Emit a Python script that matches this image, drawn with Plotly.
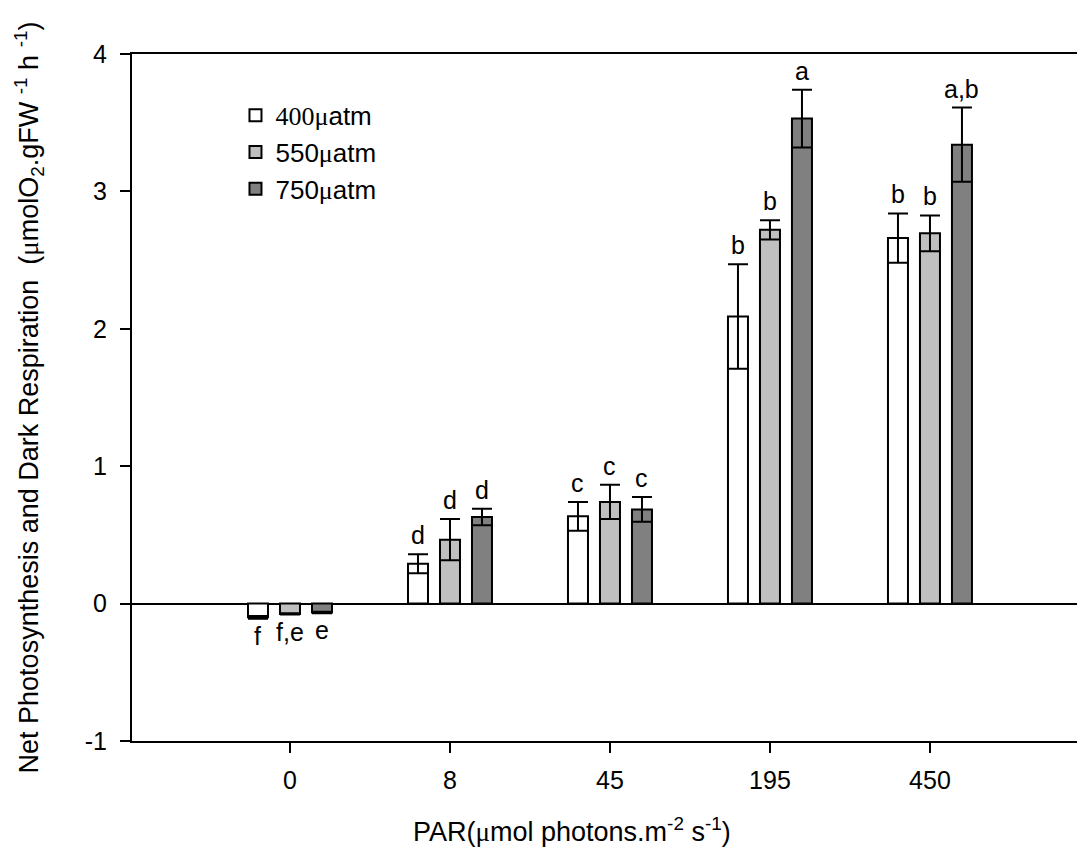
import plotly.graph_objects as go

categories = ["0", "8", "45", "195", "450"]

v400 = [-0.10, 0.29, 0.635, 2.09, 2.66]
e400 = [0.01, 0.07, 0.105, 0.38, 0.18]
v550 = [-0.075, 0.465, 0.74, 2.72, 2.695]
e550 = [0.005, 0.15, 0.125, 0.07, 0.13]
v750 = [-0.065, 0.63, 0.685, 3.53, 3.34]
e750 = [0.005, 0.06, 0.09, 0.21, 0.27]

l400 = ["f", "d", "c", "b", "b"]
l550 = ["f,e", "d", "c", "b", "b"]
l750 = ["e", "d", "c", "a", "a,b"]

y_tickvals = [-1, 0, 1, 2, 3, 4]
y_ticktext = ["-1", "0", "1", "2", "3", "4"]

series_names = ["400", "550", "750"]
values = [v400, v550, v750]
errors = [e400, e550, e750]
letters = [l400, l550, l750]
colors = ["#ffffff", "#c0c0c0", "#808080"]

FONT = "Arial, 'Liberation Sans', sans-serif"
SERIF = "'Liberation Serif', 'Times New Roman', serif"
MU = "<span style=\"font-family:" + SERIF + "\">\u03bc</span>"

fig = go.Figure()
for k in range(3):
    name = series_names[k] + MU + "atm"
    if k == 0:
        name = ("<span style=\"font-family:" + SERIF + "\">"
                + series_names[k] + "\u03bc</span>atm")
    fig.add_trace(go.Bar(
        x=categories, y=values[k], name=name,
        marker=dict(color=colors[k], line=dict(color="black", width=2)),
        error_y=dict(type="data", array=errors[k], color="black",
                     thickness=2, width=10),
    ))

offsets = [-0.2, 0.0, 0.2]
ann = []
for k in range(3):
    for i in range(len(categories)):
        v = values[k][i]
        e = errors[k][i]
        if v >= 0:
            ann.append(dict(x=i + offsets[k], y=v + e, text=letters[k][i],
                            xref="x", yref="y", showarrow=False,
                            yanchor="bottom", yshift=3,
                            font=dict(size=25, color="black", family=FONT)))
        else:
            ann.append(dict(x=i + offsets[k], y=v - e, text=letters[k][i],
                            xref="x", yref="y", showarrow=False,
                            yanchor="top", yshift=-1,
                            font=dict(size=25, color="black", family=FONT)))

# x-axis title (placed as annotation so it can sit left of the plot centre)
ann.append(dict(x=0.4656, y=-0.1295, xref="paper", yref="paper",
                xanchor="center", yanchor="middle", showarrow=False,
                text="PAR(" + MU + "mol photons.m<sup>-2</sup> s<sup>-1</sup>)",
                font=dict(size=27, color="black", family=FONT)))

fig.update_layout(
    width=1077, height=857,
    margin=dict(l=132, r=0, t=54, b=116),
    paper_bgcolor="white", plot_bgcolor="white",
    barmode="group", bargap=0.4, bargroupgap=0.375,
    font=dict(family=FONT, color="black", size=24),
    showlegend=True,
    legend=dict(x=0.1095, y=0.945, xanchor="left", yanchor="top",
                bgcolor="rgba(0,0,0,0)", font=dict(size=26, family=FONT),
                itemsizing="constant", tracegroupgap=0),
    annotations=ann,
)
fig.update_xaxes(
    type="category", range=[-0.9875, 4.919],
    showline=True, linecolor="black", linewidth=2, mirror=True,
    ticks="outside", ticklen=10, tickwidth=2, tickcolor="black",
    tickfont=dict(size=25, family=FONT), ticklabelstandoff=6,
    showgrid=False, zeroline=False,
)
fig.update_yaxes(
    range=[-1, 4], tickvals=y_tickvals, ticktext=y_ticktext,
    showline=True, linecolor="black", linewidth=2, mirror=False,
    ticks="outside", ticklen=10, tickwidth=2, tickcolor="black",
    tickfont=dict(size=25, family=FONT), ticklabelstandoff=8,
    showgrid=False, zeroline=True, zerolinecolor="black", zerolinewidth=2,
    title=dict(text="Net Photosynthesis and Dark Respiration \u00a0(" + MU
               + "molO<sub>2</sub>.gFW <sup>-1</sup> h <sup>-1</sup>)",
               font=dict(size=27, family=FONT), standoff=38),
)

fig.write_html("out.html")
